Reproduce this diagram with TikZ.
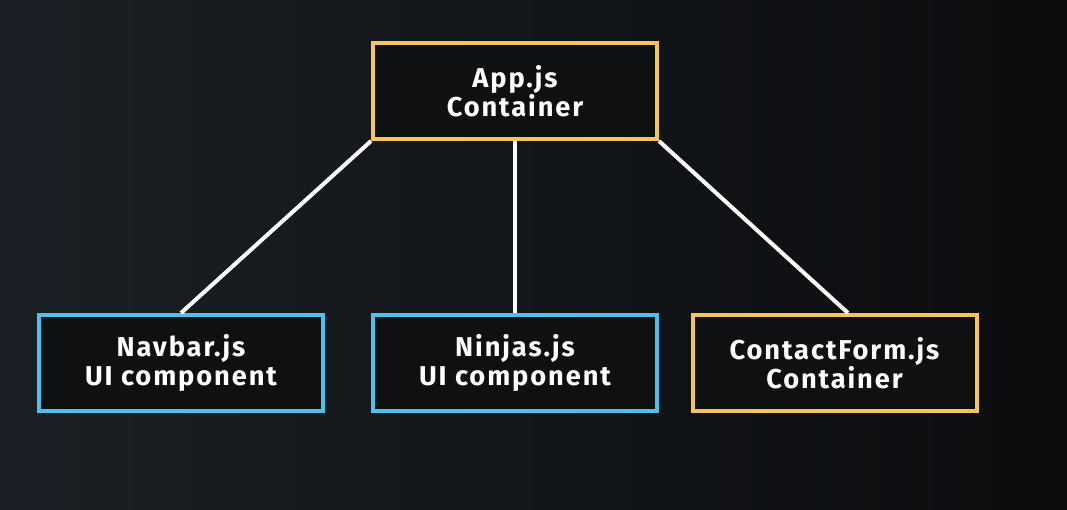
\documentclass[tikz,border=0pt]{standalone}
\usepackage{fontspec}
\setmainfont{Fira Sans}
\newfontfamily\boxfont[LetterSpace=7]{Fira Sans}
\definecolor{bgdark}{HTML}{0B0C0E}
\definecolor{bglight}{HTML}{1A2025}
\definecolor{boxfill}{HTML}{0F1012}
\definecolor{contyellow}{HTML}{F5C55A}
\definecolor{uiblue}{HTML}{4FC0EA}
\begin{document}
\begin{tikzpicture}[
    box/.style={draw, line width=0.08cm, fill=boxfill, minimum width=5.68cm, minimum height=1.92cm,
                align=center, text=white, font=\boxfont\fontsize{15.5}{16.5}\selectfont\bfseries},
    cont/.style={box, draw=contyellow},
    ui/.style={box, draw=uiblue},
    link/.style={draw=white, line width=0.08cm}
]
    % background
    \shade[left color=bglight, right color=bgdark] (0,0) rectangle (21.34,-10.18);
    \useasboundingbox (0,0) rectangle (21.34,-10.18);

    % top: the root container
    \node[cont] (app) at (10.30,-1.82) {App.js\\Container};

    % bottom row: two UI components and one container
    \node[ui]   (nav)    at (3.62,-7.26)  {Navbar.js\\UI component};
    \node[ui]   (ninjas) at (10.30,-7.26) {Ninjas.js\\UI component};
    \node[cont] (cform)  at (16.69,-7.26) {ContactForm.js\\Container};

    \draw[link] (app.south west) -- (nav.north);
    \draw[link] (app.south) -- (ninjas.north);
    \draw[link] (app.south east) -- ([xshift=0.27cm]cform.north);
\end{tikzpicture}
\end{document}
